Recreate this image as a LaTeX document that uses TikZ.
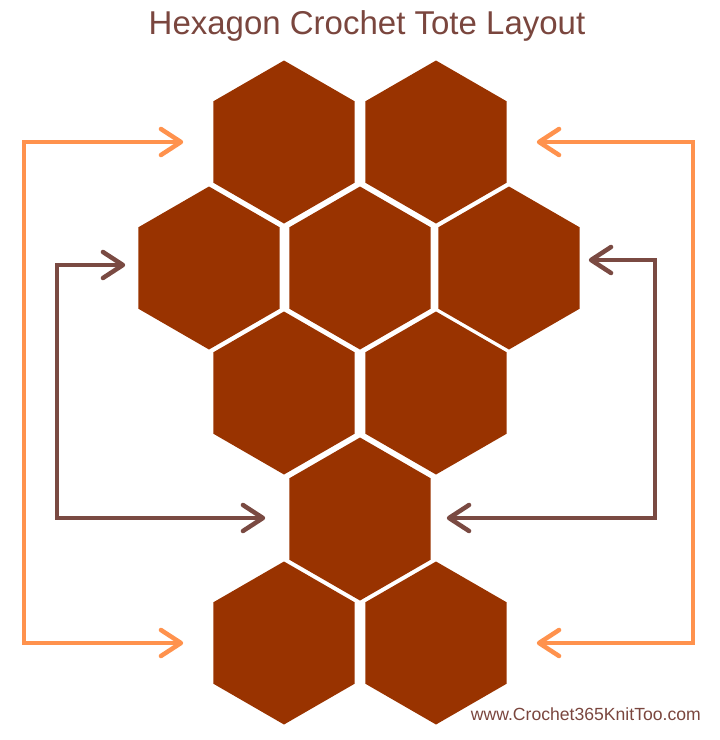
\documentclass[tikz,border=0pt]{standalone}
\usepackage{fontspec}
\setmainfont{Liberation Sans}
\usetikzlibrary{shapes.geometric,arrows.meta}
\definecolor{hexrot}{RGB}{153,51,0}
\definecolor{pfeilorange}{RGB}{255,146,77}
\definecolor{pfeilbraun}{RGB}{122,74,66}
\definecolor{textbraun}{RGB}{122,70,62}
\tikzset{
	hexa/.style={regular polygon,regular polygon sides=6,shape border rotate=30,minimum size=163pt,inner sep=0pt,fill=hexrot},
	pfeil/.style={line width=4.5pt,{Straight Barb[length=20pt,width=26pt,round]}-{Straight Barb[length=20pt,width=26pt,round]}},
}
\begin{document}
\begin{tikzpicture}[x=1pt,y=-1pt]
		\useasboundingbox (0,0) rectangle (720,740);
		% Sechsecke
		\node[hexa] (h1) at (284,142) {};
		\node[hexa] (h2) at (436,142) {};
		\node[hexa] (h3) at (209,268) {};
		\node[hexa] (h4) at (360,268) {};
		\node[hexa] (h5) at (509,268) {};
		\node[hexa] (h6) at (284,393) {};
		\node[hexa] (h10) at (436,393) {};
		\node[hexa] (h7) at (360,519) {};
		\node[hexa] (h8) at (284,643) {};
		\node[hexa] (h9) at (436,643) {};
		% Ecken der Pfeile
		\coordinate (oL) at (24,143);
		\coordinate (oR) at (693,143);
		\coordinate (bL) at (57,265);
		\coordinate (bR) at (655,260);
		% Pfeile
		\draw[pfeil,pfeilorange] ([xshift=-30pt]h1.west) -| (oL) |- ([xshift=-30pt]h8.west);
		\draw[pfeil,pfeilorange] ([xshift=30pt]h2.east) -| (oR) |- ([xshift=30pt]h9.east);
		\draw[pfeil,pfeilbraun] ([xshift=-13pt,yshift=3pt]h3.west) -| (bL) |- ([xshift=-24pt,yshift=1pt]h7.west);
		\draw[pfeil,pfeilbraun] ([xshift=9pt,yshift=8pt]h5.east) -| (bR) |- ([xshift=16pt,yshift=1pt]h7.east);
		% Beschriftungen
		\node[anchor=base,text=textbraun,font=\fontsize{33}{36}\selectfont] (titel) at (367,34) {Hexagon Crochet Tote Layout};
		\node[anchor=base east,inner sep=0pt,text=textbraun,font=\fontsize{17.6}{20}\selectfont] (web) at (701,720) {www.Crochet365KnitToo.com};
	\end{tikzpicture}
\end{document}
